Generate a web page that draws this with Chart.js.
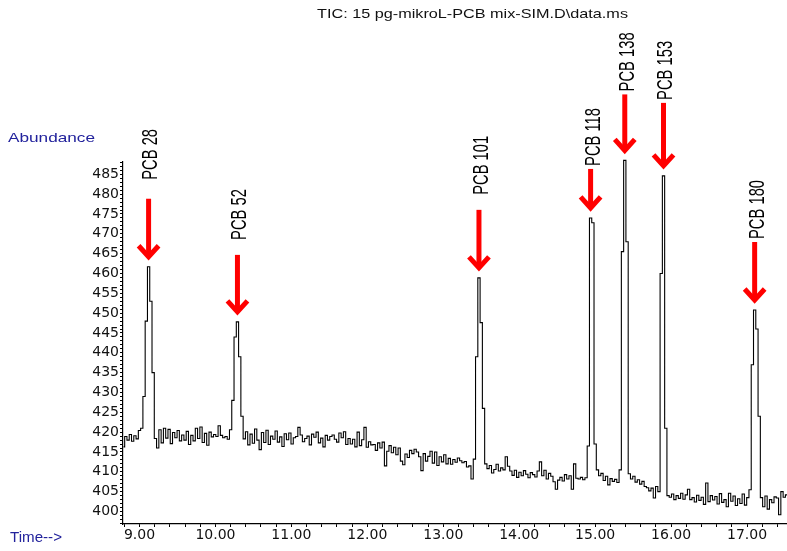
<!DOCTYPE html>
<html>
<head>
<meta charset="utf-8">
<title>TIC: 15 pg-mikroL-PCB mix-SIM.D\data.ms</title>
<script src="https://cdn.jsdelivr.net/npm/chart.js@4.4.1/dist/chart.umd.min.js"></script>
<style>
  html, body { margin: 0; padding: 0; background: #fff; }
  canvas { display: block; }
</style>
</head>
<body>
<canvas id="tic" width="787" height="551"></canvas>
<script>
// scan grid of the SIM run (minutes)
const startTime = 8.79;
const scanStep = 0.03;

// total ion current, one value per scan
const abundance = [
  416.3, 418.9, 418.0, 419.4, 417.7, 419.1, 418.3, 420.4, 421.0, 429.0,
  448.0, 461.7, 453.0, 435.0, 418.4, 416.0, 420.6, 417.3, 421.0, 418.5,
  420.7, 417.1, 419.9, 418.6, 420.4, 417.8, 419.3, 418.0, 420.2, 416.9,
  419.2, 417.8, 421.0, 418.4, 421.3, 417.4, 419.7, 416.7, 420.0, 418.8,
  419.4, 418.9, 421.6, 419.2, 418.6, 418.9, 418.2, 420.6, 428.0, 444.0,
  447.8, 439.0, 424.0, 418.3, 420.1, 416.8, 419.5, 417.2, 420.8, 418.0,
  415.6, 419.9, 417.4, 420.5, 416.9, 419.0, 418.2, 420.3, 417.5, 418.8,
  416.4, 419.6, 418.1, 419.8, 417.0, 418.6, 418.9, 421.2, 419.3, 417.6,
  418.4, 419.0, 416.8, 419.5, 418.7, 420.0, 417.3, 418.5, 416.3, 419.2,
  418.0, 418.9, 419.3, 418.2, 417.5, 419.8, 418.6, 420.1, 416.9, 418.4,
  417.0, 418.2, 416.3, 420.0, 416.6, 418.1, 421.2, 416.2, 417.6, 416.8,
  416.9, 415.4, 417.3, 416.0, 417.5, 411.5, 415.2, 416.6, 414.8, 416.2,
  414.3, 416.0, 412.7, 411.8, 414.5, 413.6, 415.4, 414.6, 415.7, 415.0,
  413.8, 410.3, 414.6, 412.7, 413.9, 415.2, 412.2, 415.0, 411.6, 413.8,
  412.5, 414.3, 412.0, 413.4, 411.9, 413.1, 412.4, 413.5, 412.8, 412.3,
  412.6, 411.2, 411.5, 408.2, 413.2, 439.0, 458.9, 447.6, 426.0, 412.0,
  410.8, 411.6, 409.7, 410.6, 411.9, 410.2, 411.0, 410.5, 413.8, 411.4,
  410.2, 409.1, 410.4, 408.6, 409.9, 409.0, 410.3, 409.4, 408.5, 409.8,
  409.3, 408.7, 410.2, 412.5, 409.0, 410.4, 408.2, 409.6, 408.9, 407.5,
  405.6, 407.9, 408.6, 407.7, 409.3, 408.2, 409.0, 405.6, 412.0, 408.4,
  408.2, 408.6, 408.0, 408.5, 416.5, 474.0, 472.8, 417.0, 410.5, 409.0,
  409.6, 407.8, 408.9, 406.7, 408.3, 407.6, 408.1, 407.3, 410.5, 465.5,
  488.5, 468.0, 409.5, 408.2, 408.9, 407.4, 408.0, 406.9, 407.6, 406.3,
  406.0, 405.2, 405.9, 403.4, 406.3, 405.0, 460.0, 484.6, 421.0, 404.0,
  403.6, 404.4, 403.0, 404.0, 403.3, 404.6, 403.1, 404.2, 405.6, 403.0,
  403.5, 402.4, 404.1, 402.8, 403.6, 401.8, 407.2, 402.5, 404.0, 402.9,
  403.8, 401.9, 404.5, 402.3, 403.0, 401.2, 404.6, 402.6, 403.9, 401.5,
  403.2, 402.0, 404.4, 401.6, 403.5, 405.5, 437.0, 450.8, 446.0, 424.0,
  403.5, 401.2, 403.9, 400.6, 403.0, 402.2, 403.7, 403.4, 399.2, 405.0,
  403.6, 404.2, 402.8
];

// identified congeners and their retention times
const peakLabels = ['PCB 28', 'PCB 52', 'PCB 101', 'PCB 118', 'PCB 138', 'PCB 153', 'PCB 180'];
const peakTimes = [9.12, 10.29, 13.47, 14.94, 15.39, 15.90, 17.10];

// axis labels
const yTickLabels = [400, 405, 410, 415, 420, 425, 430, 435, 440, 445, 450, 455, 460, 465, 470, 475, 480, 485];
const timeTickLabels = [9, 10, 11, 12, 13, 14, 15, 16, 17];

// arrow shaft length and gap to the label above it (px)
const arrowLen = [62, 61, 62, 43, 60, 67, 62];
const labelGap = [19, 15, 15, 3, 3, 3, 3];

const points = abundance.map((v, i) => ({ x: startTime + i * scanStep, y: v }));

const axisFont = { family: '"DejaVu Sans", sans-serif', size: 14, lineHeight: 1 };

// draw text squeezed/stretched horizontally to a given width
function fitText (ctx, text, x, y, width, font, color) {
  ctx.save();
  ctx.font = font;
  const w = ctx.measureText(text).width;
  ctx.translate(x, y);
  ctx.scale(width / w, 1);
  ctx.fillStyle = color;
  ctx.textBaseline = 'alphabetic';
  ctx.textAlign = 'left';
  ctx.fillText(text, 0, 0);
  ctx.restore();
}

function drawArrow (ctx, x, tip, len) {
  ctx.save();
  ctx.strokeStyle = '#ff0000';
  ctx.lineWidth = 5;
  ctx.lineCap = 'butt';
  ctx.beginPath();
  ctx.moveTo(x, tip - len);
  ctx.lineTo(x, tip - 4);
  ctx.stroke();
  ctx.lineJoin = 'miter';
  ctx.beginPath();
  ctx.moveTo(x - 10, tip - 15);
  ctx.lineTo(x, tip - 4);
  ctx.lineTo(x + 10, tip - 15);
  ctx.stroke();
  ctx.restore();
}

const annotations = {
  id: 'annotations',
  afterDraw (chart) {
    const ctx = chart.ctx;
    const xs = chart.scales.x;
    const ys = chart.scales.y;

    fitText(ctx, 'TIC: 15 pg-mikroL-PCB mix-SIM.D\\data.ms', 317, 18, 311, '13px "Liberation Sans", Arial, sans-serif', '#111');
    fitText(ctx, 'Abundance', 8, 141.5, 87, '13.5px "Liberation Sans", Arial, sans-serif', '#22229c');
    fitText(ctx, 'Time-->', 10, 541.5, 52, '14px "Liberation Sans", Arial, sans-serif', '#22229c');

    peakLabels.forEach((label, k) => {
      // apex of the peak: largest scan around the retention time
      const c = Math.round((peakTimes[k] - startTime) / scanStep);
      let best = c;
      for (let i = c - 2; i <= c + 2; i++) {
        if (abundance[i] > abundance[best]) best = i;
      }
      const px = xs.getPixelForValue(startTime + best * scanStep);
      const py = ys.getPixelForValue(abundance[best]);
      const tip = py - 6;
      drawArrow(ctx, px, tip, arrowLen[k]);

      const bottom = tip - arrowLen[k] - labelGap[k];
      ctx.save();
      ctx.font = '22px "Liberation Sans", Arial, sans-serif';
      ctx.fillStyle = '#000';
      ctx.textBaseline = 'alphabetic';
      ctx.textAlign = 'left';
      ctx.translate(px + 1 + 7.9, bottom);
      ctx.rotate(-Math.PI / 2);
      ctx.scale(0.67, 1);
      ctx.fillText(label, 0, 0);
      ctx.restore();
    });
  }
};

const chart = new Chart(document.getElementById('tic'), {
  type: 'line',
  data: {
    datasets: [{
      data: points,
      borderColor: '#000',
      borderWidth: 1.1,
      pointRadius: 0,
      stepped: 'middle',
      clip: false
    }]
  },
  options: {
    responsive: false,
    animation: false,
    events: [],
    layout: { padding: { top: 162, left: 0, right: 0, bottom: 0 } },
    plugins: { legend: { display: false }, tooltip: { enabled: false }, title: { display: false } },
    scales: {
      x: {
        type: 'linear',
        min: 8.783,
        max: 17.526,
        afterBuildTicks: (scale) => {
          const ticks = [];
          for (let k = 44; k <= 87; k++) ticks.push({ value: k / 5 });
          scale.ticks = ticks;
        },
        afterFit: (scale) => { scale.height = 27; },
        grid: { drawOnChartArea: false, color: '#000', tickLength: 3, tickWidth: 1 },
        border: { color: '#000', width: 1.2 },
        ticks: {
          autoSkip: false,
          maxRotation: 0,
          padding: 1,
          color: '#111',
          font: axisFont,
          callback: (v) => timeTickLabels.includes(v) ? v.toFixed(2) : ''
        }
      },
      y: {
        min: 396.85,
        max: 488.1,
        afterBuildTicks: (scale) => {
          const ticks = [];
          for (let v = 397; v <= 488; v++) ticks.push({ value: v });
          scale.ticks = ticks;
        },
        afterFit: (scale) => { scale.width = 123; },
        grid: { drawOnChartArea: false, color: '#000', tickLength: 3, tickWidth: 1 },
        border: { color: '#000', width: 1.2 },
        ticks: {
          autoSkip: false,
          padding: 1,
          color: '#111',
          font: axisFont,
          callback: (v) => yTickLabels.includes(v) ? String(v) : ''
        }
      }
    }
  },
  plugins: [annotations]
});
</script>
</body>
</html>
